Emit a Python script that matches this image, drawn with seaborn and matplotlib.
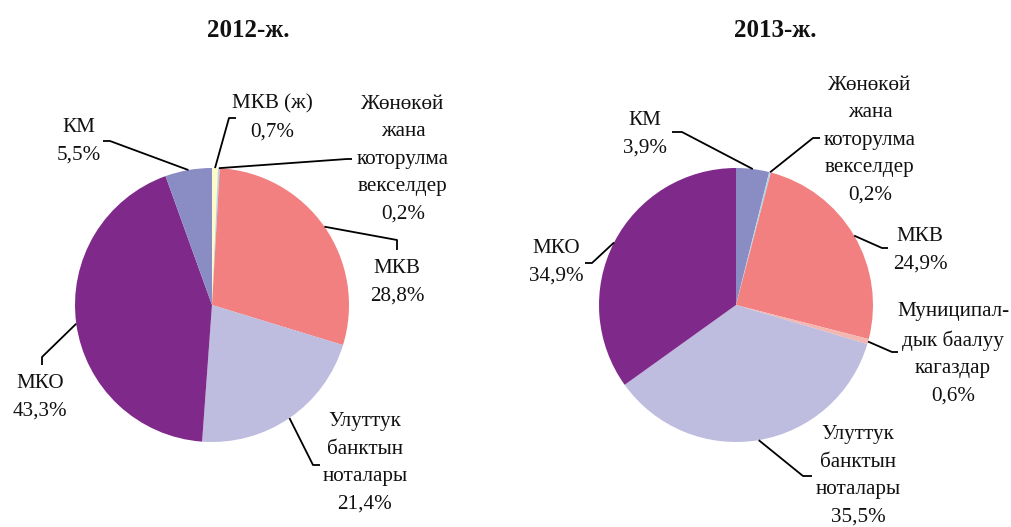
import numpy as np
import seaborn as sns
import matplotlib.pyplot as plt

# data
labels_2012 = ["МКВ (ж)", "Жөнөкөй\nжана\nкоторулма\nвекселдер", "МКВ",
               "Улуттук\nбанктын\nноталары", "МКО", "КМ"]
values_2012 = [0.7, 0.2, 28.8, 21.4, 43.3, 5.5]
colors_2012 = ["#FFFBC8", "#A9D8EA", "#F28080", "#BEBCDF", "#7F2A8B", "#8A8CC4"]

labels_2013 = ["КМ", "Жөнөкөй\nжана\nкоторулма\nвекселдер", "МКВ",
               "Муниципал-\nдык баалуу\nкагаздар", "Улуттук\nбанктын\nноталары", "МКО"]
values_2013 = [3.9, 0.2, 24.9, 0.6, 35.5, 34.9]
colors_2013 = ["#8A8CC4", "#A9D8EA", "#F28080", "#F4B6B0", "#BEBCDF", "#7F2A8B"]

sns.set_theme(style="white")
plt.rcParams['font.family'] = ['Liberation Serif', 'DejaVu Serif']

W, H = 1012, 527
fig = plt.figure(figsize=(W / 100, H / 100), dpi=100)
ax = fig.add_axes([0, 0, 1, 1])
ax.set_xlim(0, W)
ax.set_ylim(0, H)
ax.set_aspect("equal")
ax.axis("off")

def fy(y):
    return H - y

R = 137

# label layout: text centre, leader elbow, leader end (pixel coords, y down)
layout_2012 = [
    ((272, 118), (229, 118), (236, 118)),
    ((403, 159), (347, 159), (352, 159)),
    ((397, 282), (397, 240), (397, 250)),
    ((365, 463), (313, 465), (320, 465)),
    ((40, 397), (42, 357), (42, 365)),
    ((79, 141), (110, 141), (103, 141)),
]
layout_2013 = [
    ((645, 134), (682, 132), (672, 132)),
    ((870, 140), (813, 138), (820, 138)),
    ((920, 250), (882, 248), (888, 248)),
    ((953, 354), (892, 352), (898, 352)),
    ((858, 476), (803, 476), (812, 476)),
    ((556, 262), (592, 263), (585, 263)),
]

def draw_pie(center, values, labels, colors, layout, title, title_x):
    cx, cy = center
    wedges, _ = ax.pie(values, colors=colors, startangle=90, counterclock=False,
                       center=(cx, fy(cy)), radius=R,
                       wedgeprops=dict(linewidth=0))
    total = sum(values)
    for w, lab, v, (txt, elbow, end) in zip(wedges, labels, values, layout):
        mid = np.deg2rad((w.theta1 + w.theta2) / 2)
        sx = cx + R * np.cos(mid)
        sy = fy(cy) + R * np.sin(mid)
        ax.plot([sx, elbow[0], end[0]], [sy, fy(elbow[1]), fy(end[1])],
                color="black", lw=1.3, solid_capstyle="butt")
        pct = f"{v / total * 100:.1f}".replace(".", ",") + "%"
        ax.text(txt[0], fy(txt[1]), lab + "\n" + pct, ha="center", va="center",
                multialignment="center", fontsize=15.2, linespacing=1.6,
                color="#111111")
    ax.text(title_x, fy(30), title, ha="center", va="center",
            fontsize=18, fontweight="bold", color="#111111")

draw_pie((212, 305), values_2012, labels_2012, colors_2012, layout_2012, "2012-ж.", 248)
draw_pie((736, 305), values_2013, labels_2013, colors_2013, layout_2013, "2013-ж.", 775)

ax.set_xlim(0, W)
ax.set_ylim(0, H)

fig.savefig("out.png", dpi=100)
